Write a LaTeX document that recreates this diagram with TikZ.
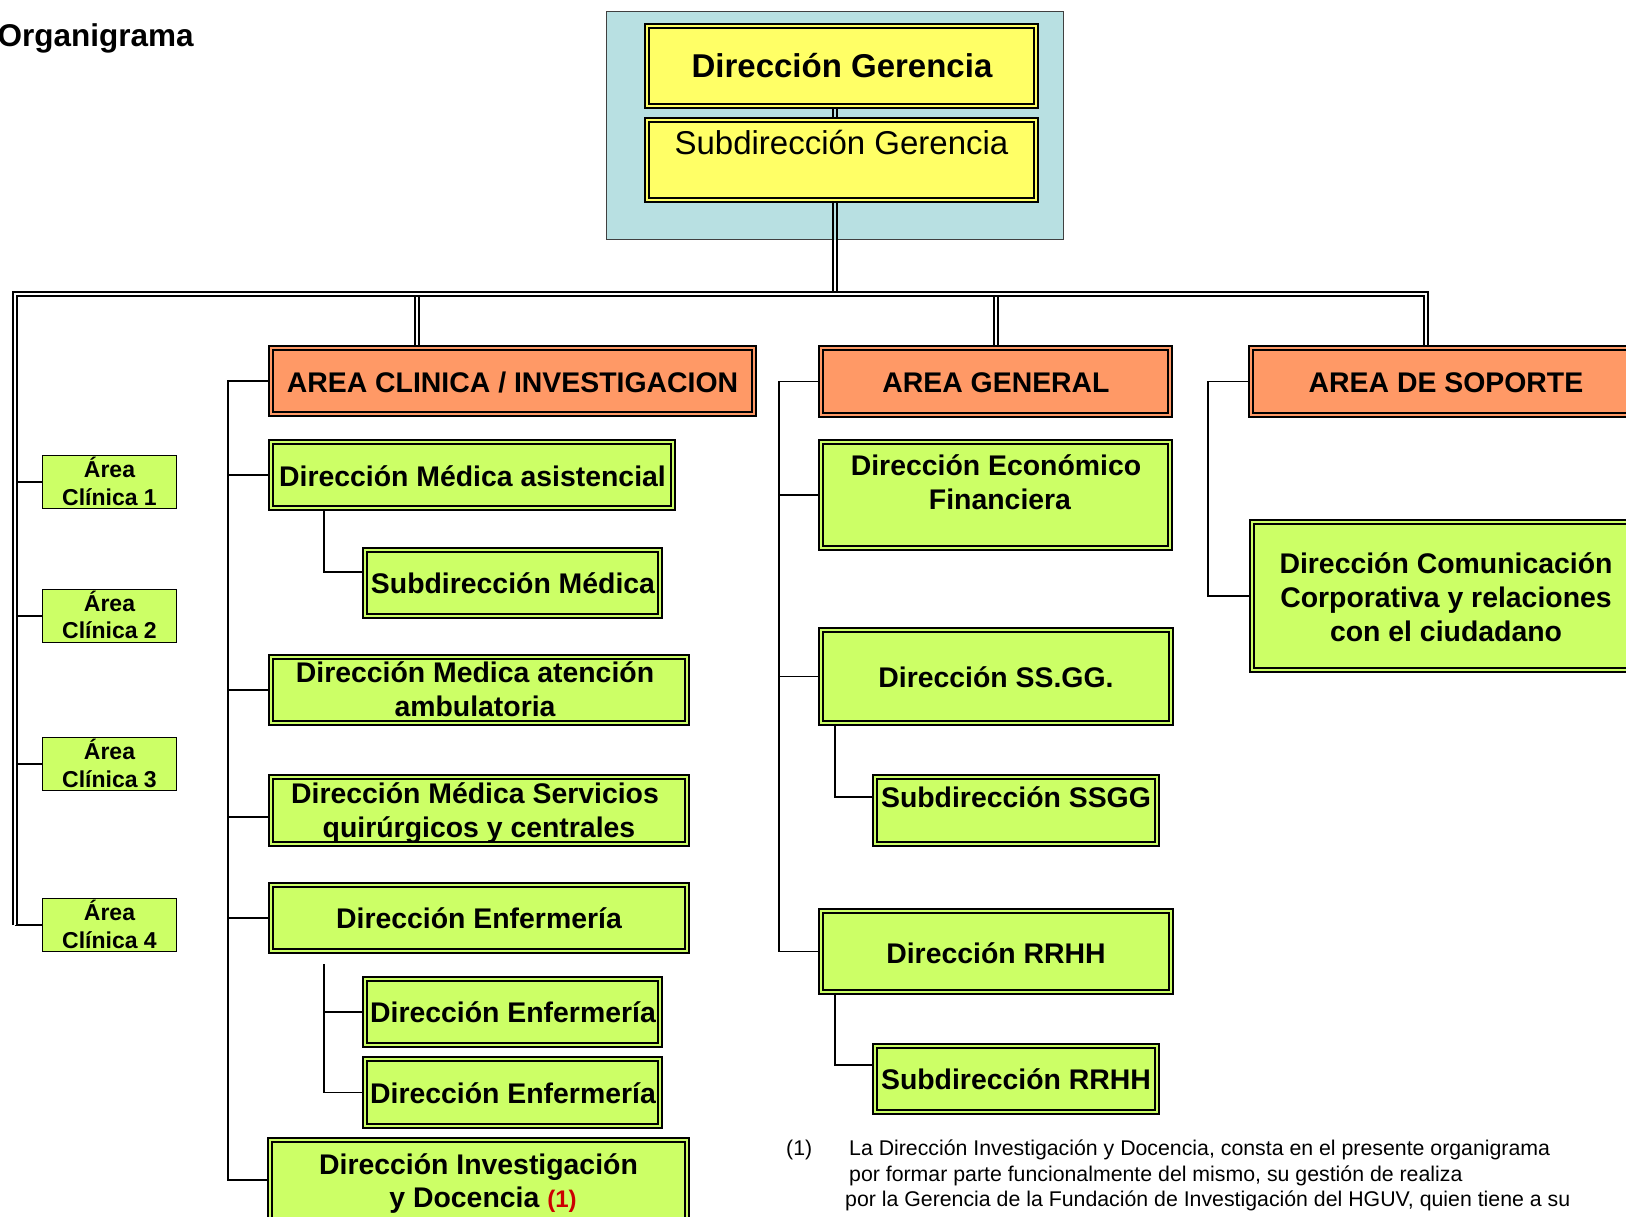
\documentclass[tikz,border=0pt]{standalone}
\usepackage{fontspec}
\setmainfont{Liberation Sans}
\usetikzlibrary{backgrounds}
\definecolor{gfill}{HTML}{CCFF66}
\definecolor{ofill}{HTML}{FF9966}
\definecolor{yfill}{HTML}{FFFF66}
\definecolor{bfill}{HTML}{B8E0E2}
\definecolor{redt}{HTML}{CC0000}
\begin{document}
\begin{tikzpicture}[x=1pt,y=-1pt,
  dbox/.style={rectangle, draw=black, line width=1.9pt, double distance=2.2pt, inner sep=0pt, outer sep=0pt},
  gbox/.style={dbox, fill=gfill, double=gfill},
  obox/.style={dbox, fill=ofill, double=ofill},
  ybox/.style={dbox, fill=yfill, double=yfill},
  abox/.style={rectangle, draw=black, line width=1.4pt, fill=gfill, inner sep=0pt, outer sep=0pt, minimum width=133.5pt, minimum height=52.5pt},
  bgbox/.style={rectangle, draw=black!75, line width=1pt, fill=bfill, inner sep=0pt},
  lbl/.style={anchor=base, inner sep=0pt, font=\fontsize{28.4}{34}\selectfont\bfseries},
  albl/.style={anchor=base, inner sep=0pt, font=\fontsize{23}{27}\selectfont\bfseries},
  big/.style={anchor=base, inner sep=0pt, font=\fontsize{33}{40}\selectfont},
  note/.style={anchor=base west, inner sep=0pt, font=\fontsize{21.3}{25}\selectfont},
  conn/.style={draw=black, line width=1.4pt},
  trunk/.style={draw=black, line width=1.6pt, double=white, double distance=2.6pt}
]
\useasboundingbox (0,0) rectangle (1626,1217);

% ---------- boxes ----------
\node[ybox, minimum width=389pt, minimum height=80pt] (dg) at (841.5,66) {};
\node[ybox, minimum width=389pt, minimum height=80pt] (sg) at (841.5,160) {};

\node[obox, minimum width=483pt, minimum height=66pt] (ac) at (512.5,381) {};
\node[gbox, minimum width=402pt, minimum height=66pt] (dma) at (472,475) {};
\node[gbox, minimum width=295pt, minimum height=66pt] (sm) at (512.5,583) {};
\node[gbox, minimum width=416pt, minimum height=66pt] (dmaa) at (479,690) {};
\node[gbox, minimum width=416pt, minimum height=67pt] (dms) at (479,810.5) {};
\node[gbox, minimum width=416pt, minimum height=66pt] (de) at (479,918) {};
\node[gbox, minimum width=295pt, minimum height=66pt] (de1) at (512.5,1012) {};
\node[gbox, minimum width=295pt, minimum height=67pt] (de2) at (512.5,1092.5) {};
\node[gbox, minimum width=417pt, minimum height=107pt] (did) at (478.5,1193.5) {};

\node[obox, minimum width=349pt, minimum height=67pt] (ag) at (995.5,381.5) {};
\node[gbox, minimum width=349pt, minimum height=106pt] (def) at (995.5,495) {};
\node[gbox, minimum width=350pt, minimum height=93pt] (dss) at (996,676.5) {};
\node[gbox, minimum width=282pt, minimum height=67pt] (sss) at (1016,810.5) {};
\node[gbox, minimum width=350pt, minimum height=81pt] (drh) at (996,951.5) {};
\node[gbox, minimum width=282pt, minimum height=66pt] (srh) at (1016,1079) {};

\node[obox, minimum width=396pt, minimum height=67pt] (as) at (1449,381.5) {};
\node[gbox, minimum width=395pt, minimum height=148pt] (dcc) at (1449.5,596) {};

\node[abox] (a1) at (109.5,482) {};
\node[abox] (a2) at (109.5,616) {};
\node[abox] (a3) at (109.5,764) {};
\node[abox] (a4) at (109.5,925) {};

% ---------- texts ----------
\node[anchor=base west, inner sep=0pt, font=\fontsize{31.5}{36}\selectfont\bfseries] (title) at (-2.5,47) {Organigrama};

\node[big, font=\fontsize{33}{40}\selectfont\bfseries] (dg-t) at (842,78) {Dirección Gerencia};
\node[big] (sg-t) at (841.5,155) {Subdirección Gerencia};

\node[lbl] (ac-t) at (512.5,392) {AREA CLINICA / INVESTIGACION};
\node[lbl] (dma-t) at (472.5,486) {Dirección Médica asistencial};
\node[lbl] (sm-t) at (513,593) {Subdirección Médica};
\node[lbl] (dmaa-t1) at (475,682) {Dirección Medica atención};
\node[lbl] (dmaa-t2) at (475,716) {ambulatoria};
\node[lbl] (dms-t1) at (475,803) {Dirección Médica Servicios};
\node[lbl] (dms-t2) at (479,837) {quirúrgicos y centrales};
\node[lbl] (de-t) at (479,928) {Dirección Enfermería};
\node[lbl] (de1-t) at (513,1022) {Dirección Enfermería};
\node[lbl] (de2-t) at (513,1103) {Dirección Enfermería};
\node[lbl] (did-t1) at (478.5,1174) {Dirección Investigación};
\node[lbl] (did-t2) at (483,1207) {y Docencia {\color{redt}\fontsize{24}{28}\selectfont(1)}};

\node[lbl] (ag-t) at (996,392) {AREA GENERAL};
\node[lbl] (def-t1) at (996,475) {Dirección Económico};
\node[lbl] (def-t2) at (1000,509) {Financiera};
\node[lbl] (dss-t) at (996,687) {Dirección SS.GG.};
\node[lbl] (sss-t) at (1016,807) {Subdirección SSGG};
\node[lbl] (drh-t) at (996,963) {Dirección RRHH};
\node[lbl] (srh-t) at (1016,1089) {Subdirección RRHH};

\node[lbl] (as-t) at (1446,392) {AREA DE SOPORTE};
\node[lbl] (dcc-t1) at (1446,573) {Dirección Comunicación};
\node[lbl] (dcc-t2) at (1446,607) {Corporativa y relaciones};
\node[lbl] (dcc-t3) at (1446,641) {con el ciudadano};

\node[albl] (a1-t1) at (109.5,477) {Área};
\node[albl] (a1-t2) at (109.5,505) {Clínica 1};
\node[albl] (a2-t1) at (109.5,611) {Área};
\node[albl] (a2-t2) at (109.5,638) {Clínica 2};
\node[albl] (a3-t1) at (109.5,759) {Área};
\node[albl] (a3-t2) at (109.5,787) {Clínica 3};
\node[albl] (a4-t1) at (109.5,920) {Área};
\node[albl] (a4-t2) at (109.5,948) {Clínica 4};

\node[note] (fn-n) at (786,1155) {(1)};
\node[note] (fn-1) at (849,1155) {La Dirección Investigación y Docencia, consta en el presente organigrama};
\node[note] (fn-2) at (849,1181) {por formar parte funcionalmente del mismo, su gestión de realiza};
\node[note] (fn-3) at (845,1206) {por la Gerencia de la Fundación de Investigación del HGUV, quien tiene a su};

% ---------- background: panel, connectors, trunk ----------
\begin{scope}[on background layer]
\node[bgbox, minimum width=457pt, minimum height=228pt] (bg) at (834.5,126) {};

% clinical column
\coordinate (cbt) at (228,381);
\coordinate (cbb) at (228,1180);
\coordinate (didc) at ([yshift=13.5pt]did.west);
\coordinate (dmsc) at ([yshift=-6.5pt]dms.west);
\coordinate (smc) at ([yshift=11pt]sm.west);
\draw[conn] (ac.west) -- (cbt) -- (cbb) -- (didc);
\draw[conn] (dma.west -| cbt) -- (dma.west);
\draw[conn] (dmaa.west -| cbt) -- (dmaa.west);
\draw[conn] (dmsc -| cbt) -- (dmsc);
\draw[conn] (de.west -| cbt) -- (de.west);
\draw[conn] (dma.south -| 324,0) |- (smc);
\coordinate (enb) at (324,964);
\draw[conn] (enb) |- (de2.west);
\draw[conn] (de1.west -| enb) -- (de1.west);

% general column
\coordinate (gbt) at (779,381.5);
\coordinate (sssc) at ([yshift=13.5pt]sss.west);
\coordinate (srhc) at ([yshift=14pt]srh.west);
\draw[conn] (ag.west) -- (gbt) |- (drh.west);
\draw[conn] (def.west -| gbt) -- (def.west);
\draw[conn] (dss.west -| gbt) -- (dss.west);
\draw[conn] (dss.south -| 835,0) |- (sssc);
\draw[conn] (drh.south -| 835,0) |- (srhc);

% support column
\draw[conn] (as.west) -- (1208,381.5) |- (dcc.west);

% area clinica boxes
\draw[conn] (a1.west -| 15,0) -- (a1.west);
\draw[conn] (a2.west -| 15,0) -- (a2.west);
\draw[conn] (a3.west -| 15,0) -- (a3.west);
\draw[conn] (a4.west -| 15,0) -- (a4.west);

% double trunk lines
\draw[trunk, double=bfill] (dg.south -| 835,0) -- (sg.north -| 835,0);
\draw[trunk, double=bfill] (sg.south -| 835,0) -- (bg.south -| 835,0);
\draw[trunk] (bg.south -| 835,0) -- (835,294);
\draw[trunk] (417,294) -- (ac.north -| 417,0);
\draw[trunk] (996,294) -- (ag.north -| 996,0);
\draw[trunk] (a4.west -| 15,0) -- (15,294) -- (1426,294) -- (as.north -| 1426,0);
\end{scope}
\end{tikzpicture}
\end{document}
